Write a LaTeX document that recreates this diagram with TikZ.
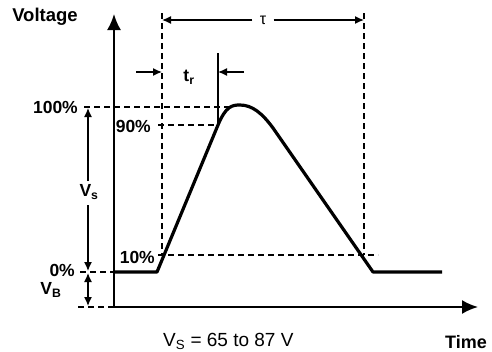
\documentclass[tikz,border=0pt]{standalone}
\usepackage{fontspec}
\setmainfont{Liberation Sans}
\usetikzlibrary{arrows.meta}
\begin{document}
\begin{tikzpicture}[x=1pt,y=-1pt,
  lbl/.style={font=\fontsize{17.5}{19}\selectfont\bfseries, inner sep=0pt},
  axis/.style={line width=2pt, -{Latex[length=16pt,width=14pt]}},
  wave/.style={line width=3.2pt, line join=round},
  guide/.style={line width=1.4pt, dash pattern=on 6pt off 4pt},
  dim/.style={line width=1.4pt, -{Latex[length=9pt,width=8pt]}},
  ]
\useasboundingbox (0,0) rectangle (492,351);
\fill[white] (0,0) rectangle (492,351);
% key coordinates
\coordinate (O) at (114,307);
\coordinate (Ytip) at (114,14);
\coordinate (Xtip) at (478,307);
\coordinate (b0) at (114,272);
\coordinate (r0) at (157,272);
\coordinate (r90) at (218,125);
\coordinate (pk) at (240,105);
\coordinate (f1) at (273,128);
\coordinate (f0) at (373,272);
\coordinate (e0) at (442,272);
% guides
\draw[guide] (162,13) coordinate (Lt) -- (162,255) coordinate (Lb);
\draw[guide] (364,13) coordinate (Rt) -- (364,255) coordinate (Rb);
\draw[guide] (84,107) coordinate (h100a) -- (232,107) coordinate (h100b);
\draw[guide] (158,125) coordinate (h90a) -- (r90);
\draw[guide] (158,255) coordinate (h10a) -- (378,255) coordinate (h10b);
\draw[guide] (80,272) coordinate (h0a) -- (b0);
\draw[guide] (78,307) coordinate (hBa) -- (O);
% axes
\draw[axis] (O) -- (Ytip);
\draw[axis] (O) -- (Xtip);
% waveform
\draw[wave] (b0) -- (r0) -- (r90) .. controls (226,106) and (232,105) .. (pk)
  .. controls (252,105) and (262,113) .. (f1) -- (f0) -- (e0);
% t_r marker
\draw[line width=1.4pt] (r90) -- (218,53) coordinate (trtop);
\coordinate (trL) at (136,72);
\coordinate (trR) at (244,72);
\draw[dim] (trL) -- (162,72) coordinate (trLt);
\draw[dim] (trR) -- (218,72) coordinate (trRt);
\node[font=\fontsize{17.5}{19}\selectfont\bfseries] (tr) at (189,77) {t\textsubscript{r}};
% tau
\node[font=\fontsize{16}{18}\selectfont] (tau) at (263,20) {τ};
\draw[dim] (tau.west) ++(-4,0) coordinate (tauL) -- (162,20) coordinate (tauLt);
\draw[dim] (tau.east) ++(4,0) coordinate (tauR) -- (364,20) coordinate (tauRt);
% Vs
\node[font=\fontsize{17.5}{19}\selectfont\bfseries] (vs) at (89,192) {V\textsubscript{s}};
\draw[dim] (88,181) coordinate (vsU) -- (88,108) coordinate (vsUt);
\draw[dim] (88,205) coordinate (vsD) -- (88,271) coordinate (vsDt);
% VB
\coordinate (vbM) at (88,290);
\draw[dim] (vbM) -- (88,273) coordinate (vbU);
\draw[dim] (vbM) -- (88,306) coordinate (vbD);
\node[font=\fontsize{17.5}{19}\selectfont\bfseries] (vb) at (51,290) {V\textsubscript{B}};
% level labels
\node[lbl, anchor=east] (l100) at (78,107) {100\%};
\node[lbl, anchor=east] (l90) at (151,126) {90\%};
\node[lbl, anchor=east] (l10) at (155,257) {10\%};
\node[lbl, anchor=east] (l0) at (75,270) {0\%};
\node[font=\fontsize{18.5}{20}\selectfont\bfseries, inner sep=0pt] (volt) at (45,17) {Voltage};
\node[font=\fontsize{18}{20}\selectfont\bfseries, anchor=base east, inner sep=0pt] (time) at (487,348) {Time};
\node[font=\fontsize{19}{21}\selectfont, anchor=base west, inner sep=0pt] (note) at (163,346) {V\textsubscript{S} = 65 to 87 V};
\end{tikzpicture}
\end{document}
